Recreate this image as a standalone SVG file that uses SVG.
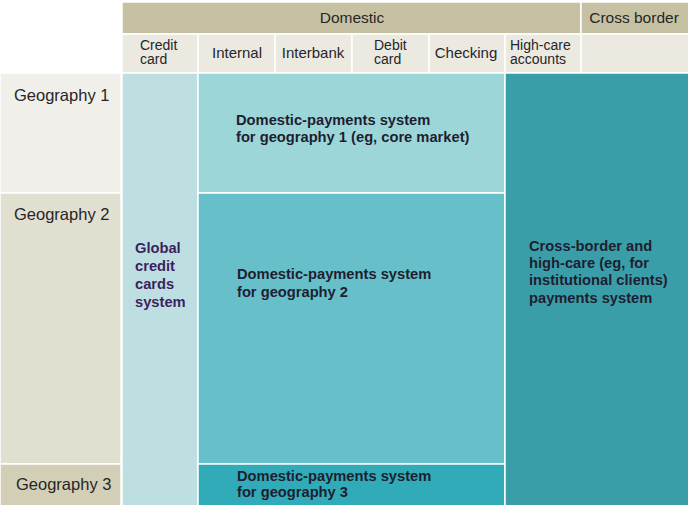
<svg xmlns="http://www.w3.org/2000/svg" width="688" height="505" viewBox="0 0 688 505">
<style>
text{font-family:"Liberation Sans",Arial,sans-serif;font-size:15px;fill:#26262a}
.t{font-size:15.5px}
.s{font-size:14px}
.geo{font-size:16.5px}
.b{font-weight:bold;fill:#1e1e30;font-size:14.7px}
.g{fill:#3d1f5c}
.c{text-anchor:middle}
rect{stroke:#ffffff;stroke-width:1.5}
</style>
<rect x="0" y="0" width="688" height="505" fill="#ffffff" stroke="none"/>
<g id="header">
<rect x="122" y="2" width="459" height="32" fill="#c6c1a2"/>
<text class="c t" x="352" y="23">Domestic</text>
<rect x="581" y="2" width="108" height="32" fill="#c6c1a2"/>
<text class="c t" x="634" y="23">Cross border</text>
<rect x="122" y="34" width="76" height="39" fill="#ebe9e0"/>
<text class="s" x="140" y="49.5">Credit</text><text class="s" x="140" y="64">card</text>
<rect x="198" y="34" width="77" height="39" fill="#ebe9e0"/>
<text class="c" x="237" y="58">Internal</text>
<rect x="275" y="34" width="77" height="39" fill="#ebe9e0"/>
<text class="c" x="313" y="58">Interbank</text>
<rect x="352" y="34" width="77" height="39" fill="#ebe9e0"/>
<text class="s" x="374" y="49.5">Debit</text><text class="s" x="374" y="64">card</text>
<rect x="429" y="34" width="76" height="39" fill="#ebe9e0"/>
<text class="c" x="466" y="58">Checking</text>
<rect x="505" y="34" width="76" height="39" fill="#ebe9e0"/>
<text class="s" x="510" y="49.5">High-care</text><text class="s" x="510" y="64">accounts</text>
<rect x="581" y="34" width="108" height="39" fill="#ebe9e0"/>
</g>
<g id="geo1"><rect x="0" y="73" width="121" height="120" fill="#f0efe9"/><text class="geo" x="14" y="101">Geography 1</text></g>
<g id="geo2"><rect x="0" y="193" width="121" height="271" fill="#e1dfcf"/><text class="geo" x="14" y="220">Geography 2</text></g>
<g id="geo3"><rect x="0" y="464" width="121" height="42" fill="#d3cfb7"/><text class="geo" x="16" y="490">Geography 3</text></g>
<g id="global-cc"><rect x="122" y="73" width="76" height="433" fill="#bddfe2"/>
<text class="b g" x="135" y="253">Global</text><text class="b g" x="135" y="271">credit</text><text class="b g" x="135" y="289">cards</text><text class="b g" x="135" y="307">system</text></g>
<g id="dom1"><rect x="198" y="73" width="307" height="120" fill="#9dd6d9"/>
<text class="b" x="236" y="125">Domestic-payments system</text><text class="b" x="236" y="142">for geography 1 (eg, core market)</text></g>
<g id="dom2"><rect x="198" y="193" width="307" height="271" fill="#67c0c9"/>
<text class="b" x="237" y="279">Domestic-payments system</text><text class="b" x="237" y="297">for geography 2</text></g>
<g id="dom3"><rect x="198" y="464" width="307" height="42" fill="#30abb7"/>
<text class="b" x="237" y="481">Domestic-payments system</text><text class="b" x="237" y="497">for geography 3</text></g>
<g id="crossborder"><rect x="505" y="73" width="184" height="433" fill="#3a9ea9"/>
<text class="b" x="529" y="251">Cross-border and</text><text class="b" x="529" y="268">high-care (eg, for</text><text class="b" x="529" y="285">institutional clients)</text><text class="b" x="529" y="303">payments system</text></g>
<g id="connectors"/>
</svg>
